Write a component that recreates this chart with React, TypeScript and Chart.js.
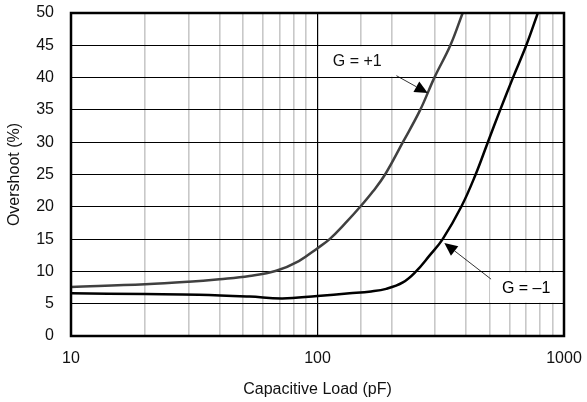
import React, { useEffect, useRef } from 'react';
import { Chart, registerables } from 'chart.js';

Chart.register(...registerables);

// Capacitive load (pF) and overshoot (%) for G = +1
const plusOneLoad = [10, 20, 30, 40, 53, 68, 84, 100, 112, 130, 149, 168, 188, 222, 261, 298, 346, 388];
const plusOneOvershoot = [7.6, 8.0, 8.4, 8.8, 9.3, 10.1, 11.6, 13.6, 15, 17.5, 20, 22.4, 25, 30, 35, 40, 45, 50];

// Capacitive load (pF) and overshoot (%) for G = -1
const minusOneLoad = [10, 20, 33, 53, 72, 100, 135, 165, 190, 222, 251, 284, 322, 383, 438, 491, 551, 621, 703, 783];
const minusOneOvershoot = [6.6, 6.5, 6.4, 6.1, 5.8, 6.2, 6.6, 6.9, 7.3, 8.3, 10, 12.4, 15, 20, 25, 30, 35, 40, 45, 50];

const xTickLabels = ['10', '100', '1000'];
const yTicks = [0, 5, 10, 15, 20, 25, 30, 35, 40, 45, 50];

const seriesNames = ['G = +1', 'G = \u20131'];

const FONT = 'Liberation Sans, Arial, sans-serif';

function toPoints(xs: number[], ys: number[]) {
  return xs.map((x, i) => ({ x, y: ys[i] }));
}

export default function App() {
  const ref = useRef<HTMLCanvasElement | null>(null);

  useEffect(() => {
    if (!ref.current) return;

    const drawArrow = (ctx: CanvasRenderingContext2D, x0: number, y0: number, x1: number, y1: number) => {
      const ang = Math.atan2(y1 - y0, x1 - x0);
      const hl = 13;
      const hw = 6;
      const bx = x1 - hl * Math.cos(ang);
      const by = y1 - hl * Math.sin(ang);
      ctx.beginPath();
      ctx.moveTo(x0, y0);
      ctx.lineTo(bx, by);
      ctx.strokeStyle = '#000';
      ctx.lineWidth = 0.8;
      ctx.stroke();
      ctx.beginPath();
      ctx.moveTo(x1, y1);
      ctx.lineTo(bx + hw * Math.sin(ang), by - hw * Math.cos(ang));
      ctx.lineTo(bx - hw * Math.sin(ang), by + hw * Math.cos(ang));
      ctx.closePath();
      ctx.fillStyle = '#000';
      ctx.fill();
    };

    const annotations = [
      { text: seriesNames[0], box: [102, 210, 40, 45], tx: 145, ty: 42.5, from: [209, 40.3], to: [280, 37.6] },
      { text: seriesNames[1], box: [506, 1000, 5, 10], tx: 702, ty: 7.4, from: [506, 8.8], to: [327, 14.4] },
    ];

    const overlay = {
      id: 'overlay',
      beforeDatasetsDraw(chart: any) {
        const { ctx, scales } = chart;
        const xs = scales.x;
        const ys = scales.y;
        ctx.save();
        ctx.fillStyle = '#fff';
        for (const a of annotations) {
          const l = xs.getPixelForValue(a.box[0]) - 1;
          let r = xs.getPixelForValue(a.box[1]);
          if (a.box[1] >= 1000) r -= 1;
          const t = ys.getPixelForValue(a.box[3]) + 1;
          const b = ys.getPixelForValue(a.box[2]) - 1;
          ctx.fillRect(l, t, r - l, b - t);
        }
        ctx.restore();
      },
      afterDatasetsDraw(chart: any) {
        const { ctx, scales, chartArea: ca } = chart;
        const xs = scales.x;
        const ys = scales.y;
        ctx.save();
        ctx.font = `16px ${FONT}`;
        ctx.fillStyle = '#111';
        ctx.textAlign = 'center';
        ctx.textBaseline = 'middle';
        for (const a of annotations) {
          ctx.fillText(a.text, xs.getPixelForValue(a.tx), ys.getPixelForValue(a.ty));
          drawArrow(
            ctx,
            xs.getPixelForValue(a.from[0]),
            ys.getPixelForValue(a.from[1]),
            xs.getPixelForValue(a.to[0]),
            ys.getPixelForValue(a.to[1])
          );
        }
        ctx.lineWidth = 2.5;
        ctx.strokeStyle = '#000';
        ctx.strokeRect(ca.left, ca.top, ca.right - ca.left, ca.bottom - ca.top);
        ctx.restore();
      },
    };

    const zeroPad = (s: any) => {
      s.paddingLeft = 0;
      s.paddingRight = 0;
      s.paddingTop = 0;
      s.paddingBottom = 0;
    };

    const chart = new Chart(ref.current, {
      type: 'line',
      data: {
        datasets: [
          {
            label: seriesNames[0],
            data: toPoints(plusOneLoad, plusOneOvershoot),
            borderColor: '#404040',
            borderWidth: 2.5,
            pointRadius: 0,
            tension: 0.4,
            fill: false,
          },
          {
            label: seriesNames[1],
            data: toPoints(minusOneLoad, minusOneOvershoot),
            borderColor: '#000',
            borderWidth: 2.5,
            pointRadius: 0,
            tension: 0.4,
            fill: false,
          },
        ],
      },
      options: {
        animation: false,
        responsive: false,
        maintainAspectRatio: false,
        layout: { padding: { left: 0, right: 23, top: 13, bottom: 0 } },
        plugins: { legend: { display: false }, tooltip: { enabled: false } },
        scales: {
          x: {
            type: 'logarithmic',
            min: 10,
            max: 1000,
            border: { display: false },
            grid: {
              drawTicks: false,
              color: (c: any) => {
                const v = c.tick ? c.tick.value : 0;
                return Math.abs(Math.log10(v) - Math.round(Math.log10(v))) < 1e-6 ? '#000' : '#c8c8c8';
              },
              lineWidth: (c: any) => {
                const v = c.tick ? c.tick.value : 0;
                return Math.abs(Math.log10(v) - Math.round(Math.log10(v))) < 1e-6 ? 1.2 : 1.6;
              },
            },
            ticks: {
              autoSkip: false,
              maxRotation: 0,
              padding: 13,
              color: '#111',
              font: { family: FONT, size: 16 },
              callback: (v: any) => {
                const s = String(v);
                return xTickLabels.includes(s) ? s : '';
              },
            },
            title: {
              display: true,
              text: 'Capacitive Load (pF)',
              color: '#111',
              font: { family: FONT, size: 16 },
              padding: { top: 0, bottom: 3 },
            },
            afterFit: (s: any) => {
              s.height = 66;
              zeroPad(s);
            },
          },
          y: {
            min: 0,
            max: 50,
            border: { display: false },
            afterBuildTicks: (s: any) => {
              s.ticks = yTicks.map((v) => ({ value: v }));
            },
            grid: { drawTicks: false, color: '#000', lineWidth: 1 },
            ticks: {
              padding: 17,
              color: '#111',
              font: { family: FONT, size: 16 },
            },
            title: {
              display: true,
              text: 'Overshoot (%)',
              color: '#111',
              font: { family: FONT, size: 16 },
              padding: { top: 5, bottom: 0 },
            },
            afterFit: (s: any) => {
              s.width = 71;
              zeroPad(s);
            },
          },
        },
      } as any,
      plugins: [overlay],
    });

    return () => chart.destroy();
  }, []);

  return (
    <div style={{ position: 'fixed', left: 0, top: 0, width: 587, height: 402, background: '#fff' }}>
      <canvas ref={ref} width={587} height={402} style={{ width: 587, height: 402 }} />
    </div>
  );
}
